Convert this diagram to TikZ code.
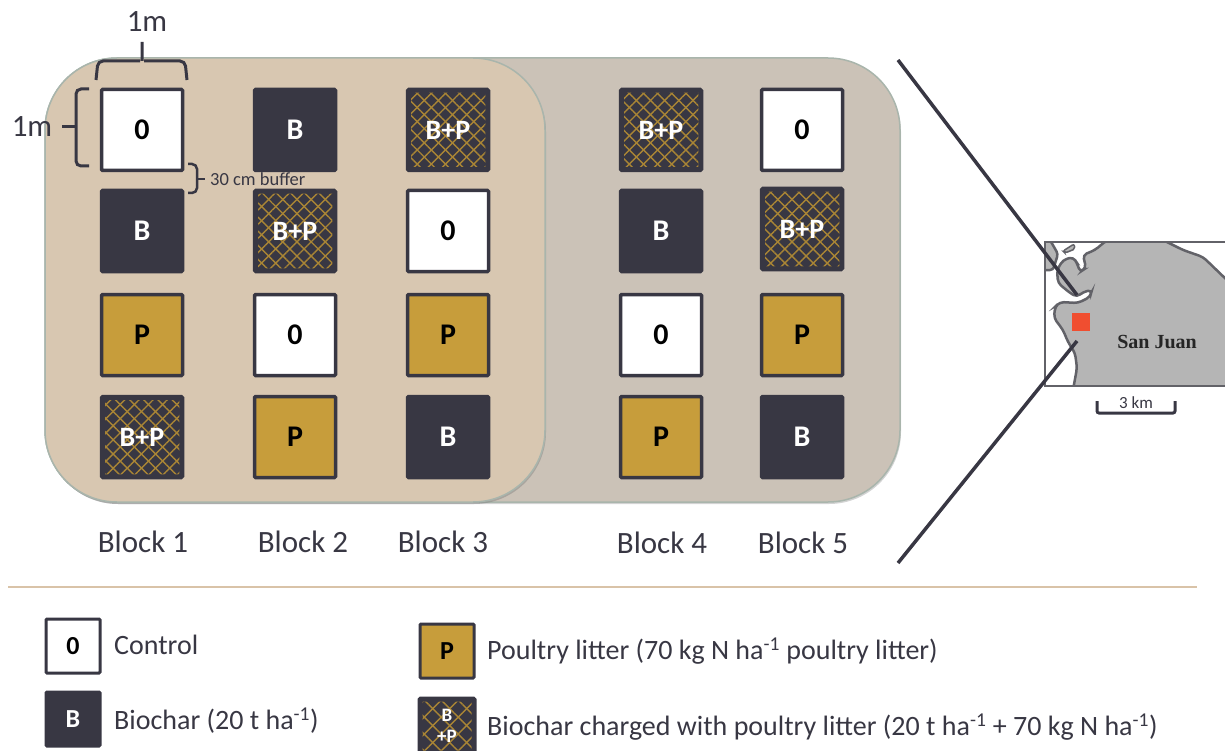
\documentclass[tikz,border=0pt]{standalone}
\usepackage{fontspec}
\setmainfont{Carlito}
\newfontfamily\mapfont{Liberation Serif}
\usetikzlibrary{arrows.meta,positioning,patterns.meta,shadows}
\definecolor{platedark}{HTML}{383743}
\definecolor{plategold}{HTML}{C79D3B}
\definecolor{hatchgold}{HTML}{A98535}
\definecolor{frontsand}{HTML}{D8C7B1}
\definecolor{backsand}{HTML}{CBC2B7}
\definecolor{edgegreen}{HTML}{A9B5AC}
\definecolor{landgray}{HTML}{B5B5B5}
\definecolor{coastgray}{HTML}{626268}
\definecolor{sitered}{HTML}{F04E30}
\definecolor{rulesand}{HTML}{D9C3A8}

\begin{document}
\begin{tikzpicture}[
x=1pt, y=-1pt,
plate/.style={draw=platedark, line width=3.5pt, rounded corners=1pt, outer sep=0pt, minimum size=81pt, inner sep=0pt, font=\fontsize{30}{32}\selectfont\bfseries},
ctrl/.style={plate, fill=white, text=black},
biochar/.style={plate, fill=platedark, text=white},
litter/.style={plate, fill=plategold, text=black},
hatchfill/.style={fill=platedark, text=white,
  postaction={pattern={Lines[angle=45,distance=#1,line width=1.4pt]}, pattern color=hatchgold},
  postaction={pattern={Lines[angle=-45,distance=#1,line width=1.4pt]}, pattern color=hatchgold},
  postaction={draw=platedark, line width=5pt}},
charged/.style={plate, minimum size=79.5pt, hatchfill=10pt, font=\fontsize{28}{30}\selectfont\bfseries},
keybox/.style={minimum size=54pt, line width=3pt, font=\fontsize{26}{20}\selectfont\bfseries},
blocklabel/.style={text=platedark, font=\fontsize{31}{34}\selectfont, inner sep=0pt},
keylabel/.style={text=platedark, font=\fontsize{28}{32}\selectfont, inner sep=0pt, anchor=west},
bracket/.style={draw=platedark, line width=3pt, rounded corners=5pt},
leader/.style={draw=platedark, line width=3.5pt}
]
\clip (0,0) rectangle (1225,751);

% field background
\node[draw=edgegreen, line width=1.5pt, fill=backsand, rounded corners=72pt, minimum width=855pt, minimum height=444pt, outer sep=0pt, drop shadow={shadow xshift=1pt, shadow yshift=-2pt, opacity=.35}] (back) at (472.5,280) {};
\node[draw=edgegreen, line width=1.5pt, fill=frontsand, rounded corners=72pt, minimum width=500pt, minimum height=444pt, outer sep=0pt, drop shadow={shadow xshift=1pt, shadow yshift=-2pt, opacity=.45}] (front) at (295,280) {};

% block 1
\node[ctrl] (ctrlA) at (142,130) {0};
\node[biochar, below=20pt of ctrlA] (bioA) {B};
\node[litter, below=23pt of bioA] (litA) {P};
\node[charged, below=21.75pt of litA] (mixA) {B+P};
% block 2
\node[biochar, right=72pt of ctrlA] (bioB) {B};
\node[charged, below=20.75pt of bioB] (mixB) {B+P};
\node[ctrl, below=23.75pt of mixB] (ctrlB) {0};
\node[litter, below=21pt of ctrlB] (litB) {P};
% block 3
\node[charged, right=72.75pt of bioB] (mixC) {B+P};
\node[ctrl, below=20.75pt of mixC] (ctrlC) {0};
\node[litter, below=23pt of ctrlC] (litC) {P};
\node[biochar, below=21pt of litC] (bioC) {B};
% block 4
\node[charged, right=133.5pt of mixC] (mixD) {B+P};
\node[biochar, below=20.75pt of mixD] (bioD) {B};
\node[ctrl, below=23pt of bioD] (ctrlD) {0};
\node[litter, below=21pt of ctrlD] (litD) {P};
% block 5
\node[ctrl, right=60.75pt of mixD] (ctrlE) {0};
\node[charged, below=18.75pt of ctrlE] (mixE) {B+P};
\node[litter, below=25.75pt of mixE] (litE) {P};
\node[biochar, below=21pt of litE] (bioE) {B};

\node[blocklabel] (blockA) at (143,542) {Block 1};
\node[blocklabel] (blockB) at (303,542) {Block 2};
\node[blocklabel] (blockC) at (443,542) {Block 3};
\node[blocklabel] (blockD) at (662,543) {Block 4};
\node[blocklabel] (blockE) at (803,543) {Block 5};

% size marks
\node[blocklabel] (sizeTop) at (147,22) {1m};
\node[blocklabel] (sizeLeft) at (32,127) {1m};
\node[text=platedark, font=\fontsize{18.5}{20}\selectfont, inner xsep=5pt, inner ysep=0pt, anchor=west] (buffer) at (205,179) {30 cm buffer};
\draw[bracket] (96,80) -- (98,61) -- (140,61) (142,42) -- (142,61) (144,61) -- (185,61) -- (187,80);
\draw[bracket] (89,89) -- (76,89) -- (76,166) -- (89,166);
\draw[bracket, line cap=butt] (62,127) -- (76,127);
\draw[bracket, line width=2.5pt] (188,164) -- (197,164) -- (197,193) -- (188,193);
\draw[bracket, line width=2.5pt] (197,179) -- (buffer.west);

% map
\begin{scope}
\clip (1045,242) rectangle (1227,386);
\fill[white] (1045,242) rectangle (1227,386);
\draw[draw=coastgray, line width=2.5pt, fill=landgray, rounded corners=4pt]
  (1107,240) -- (1095,250) -- (1083,255) -- (1086,268) -- (1080,272) -- (1077,263) -- (1073,257) -- (1063,260) -- (1057,270) -- (1058,283) -- (1070,293) -- (1077,297) -- (1083,292) -- (1092,290) -- (1090,297) -- (1078,303) -- (1060,302) -- (1055,307) -- (1054,318) -- (1063,330) -- (1068,342) -- (1075,353) -- (1077,368) -- (1073,390) -- (1230,390) -- (1230,283) -- (1203,257) -- (1183,250) -- (1163,240) -- cycle;
\draw[draw=coastgray, line width=2.5pt, fill=landgray, rounded corners=3pt] (1040,240) -- (1050,240) -- (1058,254) -- (1053,270) -- (1040,270) -- cycle;
\draw[draw=coastgray, line width=1.5pt, fill=landgray, rounded corners=2pt] (1063,251) -- (1074,244) -- (1075,249) -- (1065,253) -- cycle;
\end{scope}
\node[draw=coastgray, line width=2pt, minimum width=182pt, minimum height=144pt, outer sep=0pt, anchor=north west] (mapbox) at (1045,242) {};
\node[fill=sitered, minimum size=18pt, inner sep=0pt] (site) at (1081,322) {};
\node[text=black!85, inner sep=0pt, font=\mapfont\fontsize{20}{22}\selectfont\bfseries] (town) at (1157,342) {San Juan};
\node[text=platedark, inner sep=0pt, font=\fontsize{17}{18}\selectfont] (scale) at (1136,403) {3 km};
\draw[bracket, line width=3pt, rounded corners=2pt] (1097,401) -- (1097,413) -- (1175,413) -- (1175,401);

\coordinate (zoomTop) at (898,60);
\coordinate (zoomTopEnd) at (1077,295);
\coordinate (zoomBot) at (898,563);
\coordinate (zoomBotEnd) at (1077,341);
\draw[leader] (zoomTop) -- (zoomTopEnd);
\draw[leader] (zoomBot) -- (zoomBotEnd);

% legend
\coordinate (ruleL) at (8,587);
\coordinate (ruleR) at (1197,587);
\draw[rulesand, line width=1.5pt] (ruleL) -- (ruleR);
\node[ctrl, keybox] (keyCtrl) at (73,646) {0};
\node[biochar, keybox] (keyBio) at (73,719) {B};
\node[litter, keybox] (keyLit) at (447,651) {P};
\node[plate, keybox, hatchfill=12pt, align=center, font=\fontsize{19}{21}\selectfont\bfseries] (keyMix) at (447,726) {B\\+P};
\node[keylabel] (textCtrl) at (114,645) {Control};
\node[keylabel] (textBio) at (114,721) {Biochar (20 t ha\textsuperscript{-1})};
\node[keylabel] (textLit) at (487,651) {Poultry litter (70 kg N ha\textsuperscript{-1} poultry litter)};
\node[keylabel] (textMix) at (487,727) {Biochar charged with poultry litter (20 t ha\textsuperscript{-1} + 70 kg N ha\textsuperscript{-1})};
\end{tikzpicture}
\end{document}
